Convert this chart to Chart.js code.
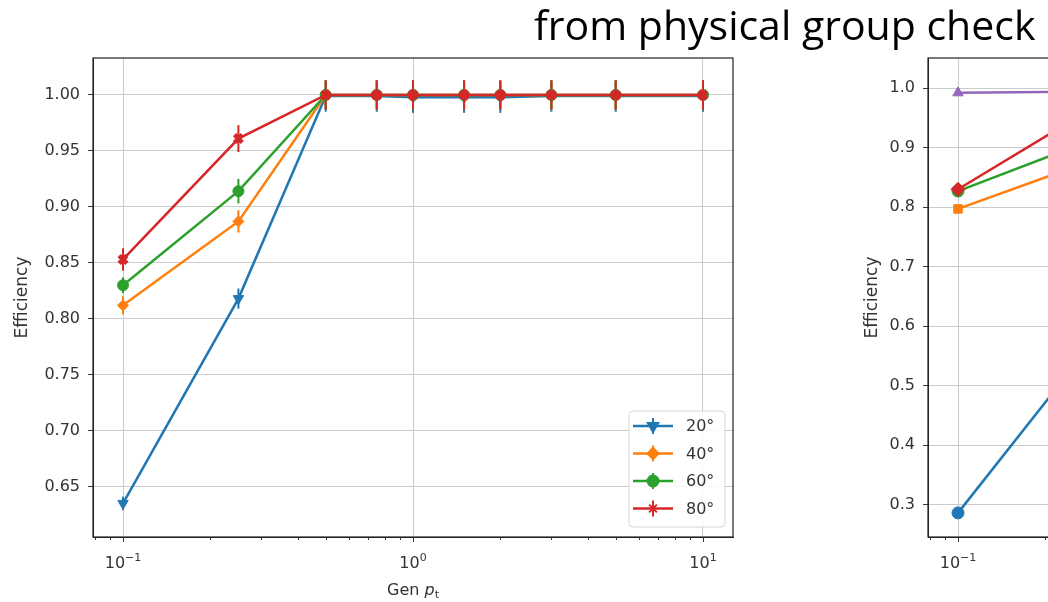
<!DOCTYPE html>
<html>
<head>
<meta charset="utf-8">
<script src="https://cdn.jsdelivr.net/npm/chart.js@4"></script>
<style>
  html, body { margin: 0; padding: 0; background: #fff; overflow: hidden; }
  #wrap { position: relative; width: 1048px; height: 602px; overflow: hidden; background: #fff; }
  #left { position: absolute; left: 0; top: 0; }
  #right { position: absolute; left: 850px; top: 0; }
  #title { position: absolute; left: 534px; top: 4px; font-family: "Open Sans", sans-serif; font-size: 41px; line-height: 1; color: #000; white-space: nowrap; }
</style>
</head>
<body>
<div id="wrap">
  <canvas id="left" width="760" height="602"></canvas>
  <canvas id="right" width="800" height="602"></canvas>
  <div id="title">from physical group check</div>
</div>
<script>
// gen pt bins (log axis)
const genPt = [0.1, 0.25, 0.5, 0.75, 1.0, 1.5, 2.0, 3.0, 5.0, 10.0];
const angleLabels = ['20°', '40°', '60°', '80°'];

// efficiency per angle
const eff20 = [0.635, 0.818, 0.999, 0.999, 0.998, 0.998, 0.998, 0.999, 0.999, 0.999];
const eff40 = [0.812, 0.887, 1.000, 1.000, 1.000, 1.000, 1.000, 1.000, 1.000, 1.000];
const eff60 = [0.830, 0.914, 1.000, 1.000, 1.000, 1.000, 1.000, 1.000, 1.000, 1.000];
const eff80 = [0.853, 0.961, 1.000, 1.000, 1.000, 1.000, 1.000, 1.000, 1.000, 1.000];

// statistical errors
const err20 = [0.006, 0.009, 0.014, 0.014, 0.014, 0.014, 0.014, 0.014, 0.014, 0.014];
const err40 = [0.008, 0.010, 0.013, 0.013, 0.013, 0.013, 0.013, 0.013, 0.013, 0.013];
const err60 = [0.007, 0.011, 0.013, 0.013, 0.013, 0.013, 0.013, 0.013, 0.013, 0.013];
const err80 = [0.010, 0.012, 0.013, 0.013, 0.013, 0.013, 0.013, 0.013, 0.013, 0.013];

// second panel (physical group check), first bins
const groupPt = [0.1, 0.25];
const grpBlue = [0.2865, 0.532];
const grpOrange = [0.797, 0.867];
const grpGreen = [0.827, 0.901];
const grpRed = [0.830, 0.947];
const grpPurple = [0.992, 0.994];

// axis ticks
const decadeTicks = [0.1, 1, 10];
const decadeExp = ['−1', '0', '1'];
const minorTicks = [0.08, 0.09, 0.2, 0.3, 0.4, 0.5, 0.6, 0.7, 0.8, 0.9, 2, 3, 4, 5, 6, 7, 8, 9];
const leftYTicks = [0.65, 0.70, 0.75, 0.80, 0.85, 0.90, 0.95, 1.00];
const rightYTicks = [0.3, 0.4, 0.5, 0.6, 0.7, 0.8, 0.9, 1.0];

const C = { blue: '#1f77b4', orange: '#ff7f0e', green: '#2ca02c', red: '#d62728', purple: '#9467bd' };
const FONT = '"DejaVu Sans", sans-serif';
const TEXT = '#333';
const FS = 16;

const toPoints = (xs, ys) => xs.map((x, i) => ({ x: x, y: ys[i] }));

function series(label, xs, ys, errs, color, style, radius, rotation, order) {
  return {
    label: label,
    data: toPoints(xs, ys),
    errors: errs,
    borderColor: color,
    backgroundColor: color,
    borderWidth: 2.5,
    pointStyle: style,
    pointRadius: radius,
    pointRotation: rotation || 0,
    pointBorderWidth: style === 'crossRot' ? 4.5 : 1,
    pointBackgroundColor: color,
    pointBorderColor: color,
    tension: 0,
    order: order
  };
}

// vertical error bars, drawn right before each series
const errorBars = {
  id: 'errorBars',
  beforeDatasetDraw(chart, args) {
    const ds = chart.data.datasets[args.index];
    if (!ds.errors) return;
    const ys = chart.scales.y, area = chart.chartArea, ctx = chart.ctx;
    ctx.save();
    ctx.beginPath();
    ctx.rect(area.left, area.top, area.right - area.left, area.bottom - area.top);
    ctx.clip();
    ctx.strokeStyle = ds.borderColor;
    ctx.lineWidth = 2;
    args.meta.data.forEach((pt, i) => {
      const v = ds.data[i].y, e = ds.errors[i];
      ctx.beginPath();
      ctx.moveTo(pt.x, ys.getPixelForValue(v - e));
      ctx.lineTo(pt.x, ys.getPixelForValue(v + e));
      ctx.stroke();
    });
    ctx.restore();
  }
};

// box around the axes
const frame = {
  id: 'frame',
  afterDatasetsDraw(chart) {
    const { ctx, chartArea: a } = chart;
    ctx.save();
    ctx.strokeStyle = '#222';
    ctx.lineWidth = 1.2;
    ctx.strokeRect(a.left, a.top, a.right - a.left, a.bottom - a.top);
    ctx.restore();
  }
};

// log-axis tick marks (long at decades, short between) and 10^n labels
const logTicks = {
  id: 'logTicks',
  afterDraw(chart) {
    const { ctx, chartArea: a } = chart;
    const xs = chart.scales.x;
    ctx.save();
    ctx.strokeStyle = '#333';
    ctx.lineWidth = 1;
    xs.ticks.forEach(t => {
      const px = Math.round(xs.getPixelForValue(t.value)) + 0.5;
      const len = t.major ? 5 : 3;
      ctx.beginPath();
      ctx.moveTo(px, a.bottom);
      ctx.lineTo(px, a.bottom + len);
      ctx.stroke();
    });
    ctx.fillStyle = TEXT;
    ctx.textBaseline = 'alphabetic';
    decadeTicks.forEach((d, i) => {
      if (d < xs.min || d > xs.max) return;
      const px = xs.getPixelForValue(d);
      ctx.font = FS + 'px ' + FONT;
      const wb = ctx.measureText('10').width;
      ctx.font = (FS - 5) + 'px ' + FONT;
      const we = ctx.measureText(decadeExp[i]).width;
      const x0 = px - (wb + we) / 2;
      const base = a.bottom + 31;
      ctx.font = FS + 'px ' + FONT;
      ctx.fillText('10', x0, base);
      ctx.font = (FS - 5) + 'px ' + FONT;
      ctx.fillText(decadeExp[i], x0 + wb, base - 7);
    });
    ctx.restore();
  }
};

// "Gen p_t" with italic p and subscript t
const xTitle = {
  id: 'xTitle',
  afterDraw(chart) {
    const { ctx, chartArea: a } = chart;
    const cx = (a.left + a.right) / 2, base = 595;
    ctx.save();
    ctx.fillStyle = TEXT;
    ctx.textBaseline = 'alphabetic';
    ctx.font = FS + 'px ' + FONT;
    const w1 = ctx.measureText('Gen ').width;
    ctx.font = 'italic ' + FS + 'px ' + FONT;
    const w2 = ctx.measureText('p').width;
    ctx.font = (FS - 5) + 'px ' + FONT;
    const w3 = ctx.measureText('t').width;
    let x = cx - (w1 + w2 + w3) / 2;
    ctx.font = FS + 'px ' + FONT;
    ctx.fillText('Gen ', x, base);
    x += w1;
    ctx.font = 'italic ' + FS + 'px ' + FONT;
    ctx.fillText('p', x, base);
    x += w2;
    ctx.font = (FS - 5) + 'px ' + FONT;
    ctx.fillText('t', x, base + 3);
    ctx.restore();
  }
};

// legend in the lower right corner of the axes
const cornerLegend = {
  id: 'cornerLegend',
  afterDraw(chart) {
    const { ctx, chartArea: a } = chart;
    const w = 96, h = 116;
    const x0 = a.right - 8 - w, y0 = a.bottom - 10 - h;
    ctx.save();
    ctx.beginPath();
    ctx.roundRect(x0, y0, w, h, 4);
    ctx.fillStyle = 'rgba(255,255,255,0.85)';
    ctx.fill();
    ctx.strokeStyle = '#d6d6d6';
    ctx.lineWidth = 1;
    ctx.stroke();
    chart.data.datasets.forEach((ds, i) => {
      const yy = y0 + 15 + i * 27.5;
      const mx = x0 + 24;
      ctx.strokeStyle = ds.borderColor;
      ctx.fillStyle = ds.backgroundColor;
      ctx.lineWidth = 2.5;
      ctx.beginPath();
      ctx.moveTo(x0 + 4, yy);
      ctx.lineTo(x0 + 44, yy);
      ctx.stroke();
      ctx.lineWidth = 2;
      ctx.beginPath();
      ctx.moveTo(mx, yy - 8);
      ctx.lineTo(mx, yy + 8);
      ctx.stroke();
      Chart.helpers.drawPoint(ctx, {
        pointStyle: ds.pointStyle,
        radius: ds.pointRadius,
        rotation: ds.pointRotation,
        borderWidth: ds.pointBorderWidth
      }, mx, yy);
      ctx.fillStyle = TEXT;
      ctx.font = FS + 'px ' + FONT;
      ctx.textBaseline = 'middle';
      ctx.fillText(ds.label, x0 + 57, yy + 1);
    });
    ctx.restore();
  }
};

function logAxis(min, max) {
  return {
    type: 'logarithmic',
    min: min,
    max: max,
    afterBuildTicks(scale) {
      const all = decadeTicks.map(v => ({ value: v, major: true }))
        .concat(minorTicks.map(v => ({ value: v, major: false })));
      all.sort((p, q) => p.value - q.value);
      scale.ticks = all.filter(t => t.value >= min && t.value <= max);
    },
    afterFit(scale) { scale.height = 65; },
    ticks: { autoSkip: false, maxRotation: 0, callback: () => '' },
    grid: {
      color: c => (c.tick && c.tick.major ? '#cbcbcb' : 'rgba(0,0,0,0)'),
      drawTicks: false,
      lineWidth: 1
    },
    border: { color: '#222', width: 1 }
  };
}

function linAxis(min, max, tickValues, digits, width) {
  return {
    type: 'linear',
    min: min,
    max: max,
    afterBuildTicks(scale) { scale.ticks = tickValues.map(v => ({ value: v })); },
    afterFit(scale) { scale.width = width; },
    ticks: {
      padding: 8,
      color: TEXT,
      font: { family: FONT, size: FS },
      callback: v => Number(v).toFixed(digits)
    },
    grid: { color: '#cbcbcb', tickColor: '#333', tickLength: 5, lineWidth: 1 },
    border: { color: '#222', width: 1 },
    title: {
      display: true,
      text: 'Efficiency',
      color: TEXT,
      font: { family: FONT, size: FS + 1 },
      padding: { top: 12, bottom: 0 }
    }
  };
}

function baseOptions(xScale, yScale, rightPad) {
  return {
    responsive: false,
    animation: false,
    layout: { padding: { left: 0, top: 58, right: rightPad, bottom: 0 } },
    plugins: { legend: { display: false }, tooltip: { enabled: false } },
    scales: { x: xScale, y: yScale }
  };
}

new Chart(document.getElementById('left'), {
  type: 'line',
  data: {
    datasets: [
      series(angleLabels[0], genPt, eff20, err20, C.blue, 'triangle', 6, 180, 3),
      series(angleLabels[1], genPt, eff40, err40, C.orange, 'rectRot', 5.5, 0, 2),
      series(angleLabels[2], genPt, eff60, err60, C.green, 'circle', 5.5, 0, 1),
      series(angleLabels[3], genPt, eff80, err80, C.red, 'crossRot', 5.5, 0, 0)
    ]
  },
  options: baseOptions(logAxis(0.0788, 12.69), linAxis(0.605, 1.033, leftYTicks, 2, 93), 27),
  plugins: [errorBars, frame, logTicks, xTitle, cornerLegend]
});

new Chart(document.getElementById('right'), {
  type: 'line',
  data: {
    datasets: [
      series('blue', groupPt, grpBlue, null, C.blue, 'circle', 6, 0, 4),
      series('orange', groupPt, grpOrange, null, C.orange, 'rect', 6, 0, 3),
      series('green', groupPt, grpGreen, null, C.green, 'circle', 6, 0, 2),
      series('red', groupPt, grpRed, null, C.red, 'rectRot', 7, 0, 1),
      series('purple', groupPt, grpPurple, null, C.purple, 'triangle', 6, 0, 0)
    ]
  },
  options: baseOptions(logAxis(0.0788, 12.69), linAxis(0.246, 1.0505, rightYTicks, 1, 78), 82),
  plugins: [frame, logTicks]
});
</script>
</body>
</html>
